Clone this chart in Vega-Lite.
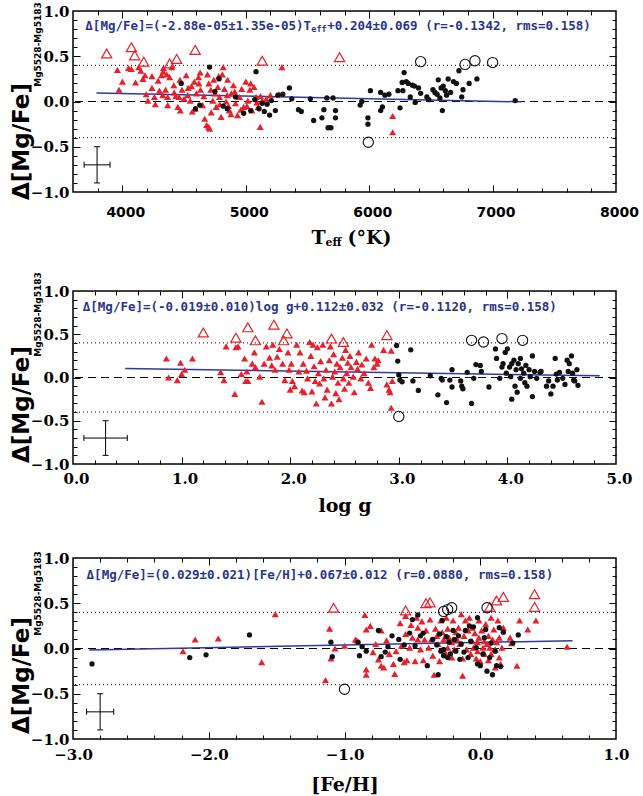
{
"$schema": "https://vega.github.io/schema/vega-lite/v6.json",
"padding": {"left": 9, "top": 0, "right": 5, "bottom": 5},
"config": {"view": {"stroke": "#000", "strokeWidth": 1.5}, "axis": {"grid": false, "domain": false, "labelColor": "#000", "tickColor": "#000", "titleColor": "#000", "tickWidth": 1, "labelFlush": false, "labelOverlap": false}, "font": "DejaVu Sans"},
"datasets": {
"p1": [
{"x":3960,"y":0.35,"t":"r"},{"x":3973,"y":0.13,"t":"r"},{"x":4000,"y":0.22,"t":"r"},{"x":4050,"y":0.37,"t":"r"},{"x":4073,"y":0.36,"t":"r"},{"x":4107,"y":0.21,"t":"r"},{"x":4133,"y":0.38,"t":"r"},{"x":4150,"y":0.34,"t":"r"},{"x":4167,"y":0.25,"t":"r"},{"x":4183,"y":0.29,"t":"r"},{"x":4193,"y":0.08,"t":"r"},{"x":4207,"y":0.01,"t":"r"},{"x":4240,"y":0.15,"t":"r"},{"x":4267,"y":-0.03,"t":"r"},{"x":4290,"y":0.23,"t":"r"},{"x":4317,"y":0.29,"t":"r"},{"x":4327,"y":0.07,"t":"r"},{"x":4333,"y":0.37,"t":"r"},{"x":4350,"y":0.13,"t":"r"},{"x":4367,"y":0.05,"t":"r"},{"x":4367,"y":-0.04,"t":"r"},{"x":4383,"y":0.27,"t":"r"},{"x":4400,"y":0.38,"t":"r"},{"x":4417,"y":0.18,"t":"r"},{"x":4433,"y":0.06,"t":"r"},{"x":4450,"y":-0.06,"t":"r"},{"x":4467,"y":0.24,"t":"r"},{"x":4483,"y":0.13,"t":"r"},{"x":4500,"y":0.03,"t":"r"},{"x":4517,"y":0.29,"t":"r"},{"x":4533,"y":0.15,"t":"r"},{"x":4550,"y":0.01,"t":"r"},{"x":4567,"y":-0.11,"t":"r"},{"x":4583,"y":0.22,"t":"r"},{"x":4600,"y":0.09,"t":"r"},{"x":4617,"y":0.27,"t":"r"},{"x":4633,"y":0.13,"t":"r"},{"x":4650,"y":-0.04,"t":"r"},{"x":4667,"y":-0.19,"t":"r"},{"x":4683,"y":-0.26,"t":"r"},{"x":4700,"y":-0.28,"t":"r"},{"x":4707,"y":-0.30,"t":"r"},{"x":4717,"y":0.13,"t":"r"},{"x":4733,"y":0.01,"t":"r"},{"x":4740,"y":0.24,"t":"r"},{"x":4760,"y":-0.06,"t":"r"},{"x":4773,"y":0.16,"t":"r"},{"x":4787,"y":0.05,"t":"r"},{"x":4800,"y":-0.17,"t":"r"},{"x":4817,"y":0.38,"t":"r"},{"x":4827,"y":0.14,"t":"r"},{"x":4840,"y":0.0,"t":"r"},{"x":4853,"y":0.24,"t":"r"},{"x":4867,"y":-0.10,"t":"r"},{"x":4883,"y":0.09,"t":"r"},{"x":4900,"y":0.18,"t":"r"},{"x":4917,"y":-0.02,"t":"r"},{"x":4933,"y":-0.15,"t":"r"},{"x":4950,"y":0.05,"t":"r"},{"x":4967,"y":0.14,"t":"r"},{"x":4983,"y":-0.06,"t":"r"},{"x":5000,"y":0.22,"t":"r"},{"x":5017,"y":0.01,"t":"r"},{"x":5033,"y":0.13,"t":"r"},{"x":5050,"y":-0.10,"t":"r"},{"x":5067,"y":0.16,"t":"r"},{"x":5083,"y":0.05,"t":"r"},{"x":5100,"y":-0.06,"t":"r"},{"x":5117,"y":-0.28,"t":"r"},{"x":5133,"y":0.01,"t":"r"},{"x":5167,"y":0.03,"t":"r"},{"x":5293,"y":0.38,"t":"r"},{"x":6190,"y":-0.16,"t":"r"},{"x":6190,"y":-0.34,"t":"r"},{"x":4330,"y":0.33,"t":"r"},{"x":4360,"y":0.30,"t":"r"},{"x":4420,"y":0.10,"t":"r"},{"x":4460,"y":0.05,"t":"r"},{"x":4530,"y":0.07,"t":"r"},{"x":4560,"y":0.17,"t":"r"},{"x":4620,"y":0.20,"t":"r"},{"x":4660,"y":0.06,"t":"r"},{"x":4690,"y":0.30,"t":"r"},{"x":4720,"y":-0.12,"t":"r"},{"x":4750,"y":0.09,"t":"r"},{"x":4790,"y":-0.03,"t":"r"},{"x":4810,"y":0.30,"t":"r"},{"x":4850,"y":0.07,"t":"r"},{"x":4880,"y":-0.14,"t":"r"},{"x":4910,"y":0.11,"t":"r"},{"x":4960,"y":-0.09,"t":"r"},{"x":5010,"y":-0.05,"t":"r"},{"x":5040,"y":0.20,"t":"r"},{"x":5090,"y":-0.01,"t":"r"},{"x":5120,"y":0.06,"t":"r"},{"x":4240,"y":0.28,"t":"r"},{"x":4260,"y":0.05,"t":"r"},{"x":4300,"y":0.12,"t":"r"},{"x":4470,"y":-0.10,"t":"r"},{"x":4590,"y":-0.08,"t":"r"},{"x":4630,"y":0.32,"t":"r"},{"x":4700,"y":0.20,"t":"r"},{"x":4780,"y":0.28,"t":"r"},{"x":4860,"y":-0.05,"t":"r"},{"x":5200,"y":0.07,"t":"r"},{"x":5270,"y":0.08,"t":"r"},
{"x":4477,"y":0.20,"t":"k"},{"x":4593,"y":-0.08,"t":"k"},{"x":4627,"y":-0.04,"t":"k"},{"x":4707,"y":0.38,"t":"k"},{"x":4750,"y":0.11,"t":"k"},{"x":4783,"y":0.25,"t":"k"},{"x":4817,"y":-0.05,"t":"k"},{"x":4850,"y":-0.08,"t":"k"},{"x":4917,"y":0.05,"t":"k"},{"x":4983,"y":-0.13,"t":"k"},{"x":5040,"y":-0.10,"t":"k"},{"x":5073,"y":0.02,"t":"k"},{"x":5083,"y":0.33,"t":"k"},{"x":5107,"y":-0.08,"t":"k"},{"x":5133,"y":-0.02,"t":"k"},{"x":5150,"y":-0.11,"t":"k"},{"x":5173,"y":-0.03,"t":"k"},{"x":5193,"y":-0.15,"t":"k"},{"x":5207,"y":0.01,"t":"k"},{"x":5240,"y":-0.10,"t":"k"},{"x":5260,"y":0.07,"t":"k"},{"x":5300,"y":0.08,"t":"k"},{"x":5353,"y":0.15,"t":"k"},{"x":5373,"y":0.03,"t":"k"},{"x":5427,"y":-0.09,"t":"k"},{"x":5450,"y":-0.11,"t":"k"},{"x":5523,"y":0.03,"t":"k"},{"x":5550,"y":-0.21,"t":"k"},{"x":5617,"y":-0.18,"t":"k"},{"x":5633,"y":-0.09,"t":"k"},{"x":5657,"y":0.04,"t":"k"},{"x":5667,"y":-0.29,"t":"k"},{"x":5690,"y":-0.29,"t":"k"},{"x":5707,"y":0.04,"t":"k"},{"x":5727,"y":-0.10,"t":"k"},{"x":5727,"y":-0.18,"t":"k"},{"x":5927,"y":-0.04,"t":"k"},{"x":5940,"y":0.0,"t":"k"},{"x":5990,"y":-0.18,"t":"k"},{"x":5990,"y":-0.25,"t":"k"},{"x":6010,"y":0.12,"t":"k"},{"x":6093,"y":-0.10,"t":"k"},{"x":6107,"y":-0.06,"t":"k"},{"x":6093,"y":0.10,"t":"k"},{"x":6127,"y":0.07,"t":"k"},{"x":6160,"y":0.08,"t":"k"},{"x":6233,"y":0.12,"t":"k"},{"x":6250,"y":-0.07,"t":"k"},{"x":6267,"y":0.21,"t":"k"},{"x":6273,"y":0.12,"t":"k"},{"x":6283,"y":0.32,"t":"k"},{"x":6300,"y":0.22,"t":"k"},{"x":6317,"y":0.20,"t":"k"},{"x":6333,"y":0.05,"t":"k"},{"x":6350,"y":0.18,"t":"k"},{"x":6367,"y":0.17,"t":"k"},{"x":6373,"y":-0.01,"t":"k"},{"x":6400,"y":0.15,"t":"k"},{"x":6417,"y":0.09,"t":"k"},{"x":6467,"y":0.05,"t":"k"},{"x":6483,"y":0.02,"t":"k"},{"x":6517,"y":0.13,"t":"k"},{"x":6533,"y":0.10,"t":"k"},{"x":6550,"y":0.08,"t":"k"},{"x":6560,"y":0.24,"t":"k"},{"x":6573,"y":0.04,"t":"k"},{"x":6583,"y":0.15,"t":"k"},{"x":6593,"y":-0.10,"t":"k"},{"x":6600,"y":0.17,"t":"k"},{"x":6617,"y":0.12,"t":"k"},{"x":6627,"y":0.07,"t":"k"},{"x":6640,"y":0.25,"t":"k"},{"x":6660,"y":0.10,"t":"k"},{"x":6683,"y":0.22,"t":"k"},{"x":6707,"y":0.20,"t":"k"},{"x":6727,"y":0.34,"t":"k"},{"x":6750,"y":0.05,"t":"k"},{"x":6760,"y":0.13,"t":"k"},{"x":6810,"y":0.20,"t":"k"},{"x":6873,"y":0.25,"t":"k"},{"x":7183,"y":0.01,"t":"k"},
{"x":3873,"y":0.53,"t":"ot"},{"x":4073,"y":0.60,"t":"ot"},{"x":4100,"y":0.51,"t":"ot"},{"x":4173,"y":0.44,"t":"ot"},{"x":4383,"y":0.42,"t":"ot"},{"x":4440,"y":0.47,"t":"ot"},{"x":4590,"y":0.57,"t":"ot"},{"x":5133,"y":0.45,"t":"ot"},{"x":5760,"y":0.49,"t":"ot"},
{"x":6417,"y":0.44,"t":"oc"},{"x":6777,"y":0.41,"t":"oc"},{"x":6857,"y":0.45,"t":"oc"},{"x":7000,"y":0.43,"t":"oc"},{"x":5993,"y":-0.45,"t":"oc"}
],
"p2": [
{"x":0.86,"y":0.22,"t":"r"},{"x":0.88,"y":0.0,"t":"r"},{"x":0.96,"y":-0.03,"t":"r"},{"x":0.99,"y":0.17,"t":"r"},{"x":1.0,"y":0.04,"t":"r"},{"x":1.03,"y":0.09,"t":"r"},{"x":1.10,"y":0.22,"t":"r"},{"x":1.36,"y":0.06,"t":"r"},{"x":1.39,"y":-0.03,"t":"r"},{"x":1.41,"y":0.36,"t":"r"},{"x":1.49,"y":-0.19,"t":"r"},{"x":1.50,"y":0.35,"t":"r"},{"x":1.52,"y":0.36,"t":"r"},{"x":1.55,"y":0.04,"t":"r"},{"x":1.58,"y":0.22,"t":"r"},{"x":1.59,"y":-0.04,"t":"r"},{"x":1.60,"y":0.07,"t":"r"},{"x":1.61,"y":-0.04,"t":"r"},{"x":1.65,"y":0.16,"t":"r"},{"x":1.67,"y":0.29,"t":"r"},{"x":1.68,"y":0.12,"t":"r"},{"x":1.72,"y":0.01,"t":"r"},{"x":1.74,"y":-0.28,"t":"r"},{"x":1.76,"y":0.16,"t":"r"},{"x":1.78,"y":0.36,"t":"r"},{"x":1.81,"y":0.23,"t":"r"},{"x":1.83,"y":0.14,"t":"r"},{"x":1.84,"y":0.38,"t":"r"},{"x":1.86,"y":0.09,"t":"r"},{"x":1.88,"y":0.24,"t":"r"},{"x":1.90,"y":0.33,"t":"r"},{"x":1.93,"y":0.16,"t":"r"},{"x":1.95,"y":-0.03,"t":"r"},{"x":1.98,"y":0.29,"t":"r"},{"x":1.99,"y":0.09,"t":"r"},{"x":2.00,"y":-0.14,"t":"r"},{"x":2.01,"y":0.16,"t":"r"},{"x":2.02,"y":-0.04,"t":"r"},{"x":2.04,"y":-0.10,"t":"r"},{"x":2.06,"y":0.38,"t":"r"},{"x":2.08,"y":0.07,"t":"r"},{"x":2.09,"y":0.29,"t":"r"},{"x":2.11,"y":-0.15,"t":"r"},{"x":2.12,"y":0.16,"t":"r"},{"x":2.13,"y":-0.17,"t":"r"},{"x":2.15,"y":0.08,"t":"r"},{"x":2.16,"y":-0.01,"t":"r"},{"x":2.18,"y":0.41,"t":"r"},{"x":2.19,"y":0.25,"t":"r"},{"x":2.20,"y":-0.16,"t":"r"},{"x":2.21,"y":0.38,"t":"r"},{"x":2.22,"y":0.13,"t":"r"},{"x":2.23,"y":-0.04,"t":"r"},{"x":2.24,"y":-0.30,"t":"r"},{"x":2.25,"y":0.35,"t":"r"},{"x":2.26,"y":0.05,"t":"r"},{"x":2.27,"y":-0.07,"t":"r"},{"x":2.28,"y":0.19,"t":"r"},{"x":2.30,"y":0.38,"t":"r"},{"x":2.31,"y":-0.01,"t":"r"},{"x":2.32,"y":-0.23,"t":"r"},{"x":2.33,"y":0.09,"t":"r"},{"x":2.34,"y":-0.14,"t":"r"},{"x":2.36,"y":0.20,"t":"r"},{"x":2.37,"y":0.36,"t":"r"},{"x":2.38,"y":-0.30,"t":"r"},{"x":2.39,"y":0.01,"t":"r"},{"x":2.40,"y":0.27,"t":"r"},{"x":2.41,"y":0.07,"t":"r"},{"x":2.42,"y":-0.18,"t":"r"},{"x":2.43,"y":0.16,"t":"r"},{"x":2.44,"y":-0.06,"t":"r"},{"x":2.45,"y":-0.25,"t":"r"},{"x":2.46,"y":0.12,"t":"r"},{"x":2.48,"y":0.23,"t":"r"},{"x":2.49,"y":-0.01,"t":"r"},{"x":2.50,"y":-0.13,"t":"r"},{"x":2.51,"y":0.32,"t":"r"},{"x":2.52,"y":0.05,"t":"r"},{"x":2.53,"y":0.17,"t":"r"},{"x":2.54,"y":-0.06,"t":"r"},{"x":2.55,"y":0.25,"t":"r"},{"x":2.56,"y":0.12,"t":"r"},{"x":2.58,"y":0.01,"t":"r"},{"x":2.59,"y":-0.17,"t":"r"},{"x":2.61,"y":0.18,"t":"r"},{"x":2.62,"y":0.10,"t":"r"},{"x":2.63,"y":0.29,"t":"r"},{"x":2.65,"y":-0.01,"t":"r"},{"x":2.66,"y":0.15,"t":"r"},{"x":2.68,"y":0.05,"t":"r"},{"x":2.70,"y":0.22,"t":"r"},{"x":2.72,"y":-0.06,"t":"r"},{"x":2.74,"y":-0.12,"t":"r"},{"x":2.75,"y":0.38,"t":"r"},{"x":2.77,"y":0.12,"t":"r"},{"x":2.78,"y":0.22,"t":"r"},{"x":2.80,"y":0.16,"t":"r"},{"x":2.81,"y":0.20,"t":"r"},{"x":2.86,"y":0.32,"t":"r"},{"x":2.89,"y":-0.08,"t":"r"},{"x":2.91,"y":-0.14,"t":"r"},{"x":2.92,"y":-0.17,"t":"r"},{"x":2.93,"y":0.31,"t":"r"},{"x":2.93,"y":-0.35,"t":"r"},{"x":2.94,"y":-0.04,"t":"r"},
{"x":2.98,"y":0.37,"t":"k"},{"x":2.99,"y":0.19,"t":"k"},{"x":3.00,"y":0.03,"t":"k"},{"x":3.01,"y":-0.03,"t":"k"},{"x":3.03,"y":-0.05,"t":"k"},{"x":3.11,"y":0.32,"t":"k"},{"x":3.13,"y":-0.04,"t":"k"},{"x":3.18,"y":-0.15,"t":"k"},{"x":3.29,"y":0.02,"t":"k"},{"x":3.36,"y":-0.20,"t":"k"},{"x":3.39,"y":-0.01,"t":"k"},{"x":3.40,"y":-0.03,"t":"k"},{"x":3.44,"y":-0.29,"t":"k"},{"x":3.47,"y":-0.03,"t":"k"},{"x":3.49,"y":0.09,"t":"k"},{"x":3.49,"y":-0.11,"t":"k"},{"x":3.57,"y":-0.04,"t":"k"},{"x":3.58,"y":-0.10,"t":"k"},{"x":3.59,"y":-0.13,"t":"k"},{"x":3.63,"y":0.06,"t":"k"},{"x":3.67,"y":-0.30,"t":"k"},{"x":3.69,"y":-0.01,"t":"k"},{"x":3.71,"y":0.15,"t":"k"},{"x":3.75,"y":0.14,"t":"k"},{"x":3.76,"y":0.07,"t":"k"},{"x":3.83,"y":-0.11,"t":"k"},{"x":3.89,"y":0.33,"t":"k"},{"x":3.90,"y":0.22,"t":"k"},{"x":3.93,"y":-0.01,"t":"k"},{"x":3.95,"y":0.12,"t":"k"},{"x":3.96,"y":0.16,"t":"k"},{"x":3.98,"y":0.29,"t":"k"},{"x":3.99,"y":0.05,"t":"k"},{"x":4.00,"y":0.33,"t":"k"},{"x":4.02,"y":0.12,"t":"k"},{"x":4.03,"y":0.01,"t":"k"},{"x":4.04,"y":0.16,"t":"k"},{"x":4.04,"y":-0.25,"t":"k"},{"x":4.06,"y":0.20,"t":"k"},{"x":4.07,"y":-0.10,"t":"k"},{"x":4.08,"y":0.09,"t":"k"},{"x":4.09,"y":-0.17,"t":"k"},{"x":4.10,"y":0.16,"t":"k"},{"x":4.12,"y":-0.01,"t":"k"},{"x":4.12,"y":0.22,"t":"k"},{"x":4.13,"y":0.10,"t":"k"},{"x":4.15,"y":0.05,"t":"k"},{"x":4.16,"y":-0.06,"t":"k"},{"x":4.17,"y":0.14,"t":"k"},{"x":4.18,"y":-0.10,"t":"k"},{"x":4.20,"y":0.09,"t":"k"},{"x":4.21,"y":0.01,"t":"k"},{"x":4.23,"y":-0.22,"t":"k"},{"x":4.23,"y":0.25,"t":"k"},{"x":4.25,"y":0.07,"t":"k"},{"x":4.27,"y":-0.01,"t":"k"},{"x":4.30,"y":0.06,"t":"k"},{"x":4.31,"y":0.07,"t":"k"},{"x":4.36,"y":-0.10,"t":"k"},{"x":4.38,"y":-0.04,"t":"k"},{"x":4.40,"y":-0.19,"t":"k"},{"x":4.42,"y":-0.10,"t":"k"},{"x":4.44,"y":0.22,"t":"k"},{"x":4.45,"y":0.04,"t":"k"},{"x":4.46,"y":-0.03,"t":"k"},{"x":4.48,"y":0.06,"t":"k"},{"x":4.51,"y":-0.01,"t":"k"},{"x":4.53,"y":-0.08,"t":"k"},{"x":4.55,"y":0.20,"t":"k"},{"x":4.56,"y":0.07,"t":"k"},{"x":4.57,"y":0.16,"t":"k"},{"x":4.59,"y":0.25,"t":"k"},{"x":4.60,"y":0.05,"t":"k"},{"x":4.61,"y":-0.03,"t":"k"},{"x":4.62,"y":-0.04,"t":"k"},{"x":4.64,"y":0.09,"t":"k"},{"x":4.65,"y":-0.09,"t":"k"},
{"x":1.20,"y":0.52,"t":"ot"},{"x":1.50,"y":0.46,"t":"ot"},{"x":1.61,"y":0.58,"t":"ot"},{"x":1.68,"y":0.43,"t":"ot"},{"x":1.85,"y":0.61,"t":"ot"},{"x":1.97,"y":0.51,"t":"ot"},{"x":1.94,"y":0.43,"t":"ot"},{"x":2.38,"y":0.45,"t":"ot"},{"x":2.49,"y":0.41,"t":"ot"},{"x":2.89,"y":0.49,"t":"ot"},
{"x":3.67,"y":0.43,"t":"oc"},{"x":3.78,"y":0.41,"t":"oc"},{"x":3.95,"y":0.45,"t":"oc"},{"x":4.14,"y":0.43,"t":"oc"},{"x":3.00,"y":-0.45,"t":"oc"}
],
"p3": [
{"x":-2.19,"y":-0.03,"t":"r"},{"x":-2.10,"y":0.10,"t":"r"},{"x":-1.93,"y":0.11,"t":"r"},{"x":-1.61,"y":-0.15,"t":"r"},{"x":-1.51,"y":0.38,"t":"r"},{"x":-1.14,"y":-0.35,"t":"r"},{"x":-1.11,"y":0.22,"t":"r"},{"x":-1.10,"y":-0.11,"t":"r"},{"x":-1.07,"y":0.0,"t":"r"},{"x":-1.00,"y":0.03,"t":"r"},{"x":-0.92,"y":0.10,"t":"r"},{"x":-0.91,"y":0.09,"t":"r"},{"x":-0.85,"y":0.37,"t":"r"},{"x":-0.84,"y":-0.23,"t":"r"},{"x":-0.84,"y":-0.29,"t":"r"},{"x":-0.84,"y":0.21,"t":"r"},{"x":-0.81,"y":0.25,"t":"r"},{"x":-0.79,"y":-0.04,"t":"r"},{"x":-0.77,"y":0.05,"t":"r"},{"x":-0.75,"y":-0.12,"t":"r"},{"x":-0.73,"y":-0.19,"t":"r"},{"x":-0.73,"y":0.20,"t":"r"},{"x":-0.71,"y":-0.21,"t":"r"},{"x":-0.69,"y":0.09,"t":"r"},{"x":-0.67,"y":-0.06,"t":"r"},{"x":-0.64,"y":-0.17,"t":"r"},{"x":-0.63,"y":-0.28,"t":"r"},{"x":-0.62,"y":-0.03,"t":"r"},{"x":-0.59,"y":0.28,"t":"r"},{"x":-0.58,"y":0.03,"t":"r"},{"x":-0.56,"y":-0.15,"t":"r"},{"x":-0.55,"y":0.16,"t":"r"},{"x":-0.55,"y":0.36,"t":"r"},{"x":-0.54,"y":-0.13,"t":"r"},{"x":-0.52,"y":0.01,"t":"r"},{"x":-0.51,"y":0.26,"t":"r"},{"x":-0.50,"y":0.12,"t":"r"},{"x":-0.48,"y":-0.14,"t":"r"},{"x":-0.47,"y":0.34,"t":"r"},{"x":-0.46,"y":0.23,"t":"r"},{"x":-0.46,"y":0.10,"t":"r"},{"x":-0.44,"y":-0.01,"t":"r"},{"x":-0.43,"y":0.30,"t":"r"},{"x":-0.42,"y":-0.13,"t":"r"},{"x":-0.41,"y":0.10,"t":"r"},{"x":-0.40,"y":0.20,"t":"r"},{"x":-0.38,"y":0.01,"t":"r"},{"x":-0.37,"y":0.32,"t":"r"},{"x":-0.36,"y":0.10,"t":"r"},{"x":-0.35,"y":-0.08,"t":"r"},{"x":-0.34,"y":-0.29,"t":"r"},{"x":-0.33,"y":0.22,"t":"r"},{"x":-0.32,"y":0.14,"t":"r"},{"x":-0.31,"y":0.05,"t":"r"},{"x":-0.30,"y":-0.14,"t":"r"},{"x":-0.29,"y":0.31,"t":"r"},{"x":-0.28,"y":0.18,"t":"r"},{"x":-0.27,"y":0.10,"t":"r"},{"x":-0.26,"y":-0.04,"t":"r"},{"x":-0.25,"y":0.34,"t":"r"},{"x":-0.24,"y":0.22,"t":"r"},{"x":-0.24,"y":0.01,"t":"r"},{"x":-0.23,"y":0.12,"t":"r"},{"x":-0.21,"y":-0.10,"t":"r"},{"x":-0.21,"y":0.07,"t":"r"},{"x":-0.20,"y":0.31,"t":"r"},{"x":-0.19,"y":-0.01,"t":"r"},{"x":-0.18,"y":0.18,"t":"r"},{"x":-0.17,"y":0.10,"t":"r"},{"x":-0.16,"y":0.23,"t":"r"},{"x":-0.15,"y":0.05,"t":"r"},{"x":-0.14,"y":0.38,"t":"r"},{"x":-0.13,"y":-0.11,"t":"r"},{"x":-0.13,"y":-0.30,"t":"r"},{"x":-0.12,"y":0.14,"t":"r"},{"x":-0.11,"y":0.31,"t":"r"},{"x":-0.10,"y":-0.01,"t":"r"},{"x":-0.09,"y":0.20,"t":"r"},{"x":-0.08,"y":0.34,"t":"r"},{"x":-0.07,"y":-0.06,"t":"r"},{"x":-0.06,"y":0.08,"t":"r"},{"x":-0.06,"y":0.23,"t":"r"},{"x":-0.05,"y":0.01,"t":"r"},{"x":-0.04,"y":0.17,"t":"r"},{"x":-0.03,"y":-0.11,"t":"r"},{"x":-0.02,"y":0.07,"t":"r"},{"x":-0.02,"y":-0.03,"t":"r"},{"x":-0.01,"y":0.31,"t":"r"},{"x":-0.01,"y":0.12,"t":"r"},{"x":0.0,"y":-0.14,"t":"r"},{"x":0.01,"y":0.20,"t":"r"},{"x":0.02,"y":0.01,"t":"r"},{"x":0.03,"y":0.08,"t":"r"},{"x":0.03,"y":-0.06,"t":"r"},{"x":0.04,"y":0.27,"t":"r"},{"x":0.05,"y":0.05,"t":"r"},{"x":0.06,"y":-0.13,"t":"r"},{"x":0.06,"y":0.14,"t":"r"},{"x":0.07,"y":0.01,"t":"r"},{"x":0.08,"y":0.34,"t":"r"},{"x":0.08,"y":-0.06,"t":"r"},{"x":0.09,"y":0.10,"t":"r"},{"x":0.10,"y":0.21,"t":"r"},{"x":0.11,"y":-0.01,"t":"r"},{"x":0.11,"y":-0.21,"t":"r"},{"x":0.12,"y":0.07,"t":"r"},{"x":0.13,"y":0.31,"t":"r"},{"x":0.14,"y":-0.10,"t":"r"},{"x":0.14,"y":0.12,"t":"r"},{"x":0.15,"y":-0.17,"t":"r"},{"x":0.16,"y":0.01,"t":"r"},{"x":0.17,"y":0.23,"t":"r"},{"x":0.22,"y":0.12,"t":"r"},{"x":0.23,"y":0.06,"t":"r"},{"x":0.27,"y":-0.19,"t":"r"},{"x":0.29,"y":0.31,"t":"r"},{"x":0.35,"y":0.21,"t":"r"},{"x":0.41,"y":0.31,"t":"r"},{"x":0.64,"y":0.02,"t":"r"},
{"x":-2.86,"y":-0.17,"t":"k"},{"x":-2.14,"y":-0.10,"t":"k"},{"x":-2.02,"y":-0.07,"t":"k"},{"x":-1.70,"y":0.15,"t":"k"},{"x":-1.10,"y":0.07,"t":"k"},{"x":-1.09,"y":-0.09,"t":"k"},{"x":-0.90,"y":0.07,"t":"k"},{"x":-0.89,"y":-0.08,"t":"k"},{"x":-0.87,"y":0.02,"t":"k"},{"x":-0.84,"y":-0.03,"t":"k"},{"x":-0.75,"y":0.20,"t":"k"},{"x":-0.73,"y":-0.09,"t":"k"},{"x":-0.70,"y":-0.04,"t":"k"},{"x":-0.68,"y":0.02,"t":"k"},{"x":-0.65,"y":0.14,"t":"k"},{"x":-0.60,"y":0.10,"t":"k"},{"x":-0.59,"y":-0.12,"t":"k"},{"x":-0.56,"y":0.04,"t":"k"},{"x":-0.52,"y":0.17,"t":"k"},{"x":-0.50,"y":0.32,"t":"k"},{"x":-0.48,"y":0.03,"t":"k"},{"x":-0.46,"y":0.37,"t":"k"},{"x":-0.44,"y":0.14,"t":"k"},{"x":-0.42,"y":0.17,"t":"k"},{"x":-0.39,"y":-0.19,"t":"k"},{"x":-0.35,"y":0.10,"t":"k"},{"x":-0.32,"y":0.04,"t":"k"},{"x":-0.31,"y":-0.29,"t":"k"},{"x":-0.30,"y":0.16,"t":"k"},{"x":-0.29,"y":-0.03,"t":"k"},{"x":-0.28,"y":0.31,"t":"k"},{"x":-0.27,"y":-0.01,"t":"k"},{"x":-0.27,"y":-0.08,"t":"k"},{"x":-0.25,"y":0.13,"t":"k"},{"x":-0.24,"y":-0.10,"t":"k"},{"x":-0.23,"y":0.07,"t":"k"},{"x":-0.22,"y":-0.06,"t":"k"},{"x":-0.20,"y":0.20,"t":"k"},{"x":-0.19,"y":0.10,"t":"k"},{"x":-0.18,"y":-0.03,"t":"k"},{"x":-0.16,"y":0.14,"t":"k"},{"x":-0.15,"y":-0.12,"t":"k"},{"x":-0.14,"y":0.05,"t":"k"},{"x":-0.12,"y":-0.04,"t":"k"},{"x":-0.11,"y":0.20,"t":"k"},{"x":-0.09,"y":-0.10,"t":"k"},{"x":-0.08,"y":0.25,"t":"k"},{"x":-0.07,"y":0.08,"t":"k"},{"x":-0.05,"y":0.24,"t":"k"},{"x":-0.03,"y":0.01,"t":"k"},{"x":-0.02,"y":0.34,"t":"k"},{"x":-0.02,"y":-0.17,"t":"k"},{"x":0.0,"y":-0.19,"t":"k"},{"x":0.02,"y":-0.06,"t":"k"},{"x":0.03,"y":0.12,"t":"k"},{"x":0.04,"y":0.21,"t":"k"},{"x":0.05,"y":-0.25,"t":"k"},{"x":0.07,"y":-0.10,"t":"k"},{"x":0.08,"y":0.06,"t":"k"},{"x":0.09,"y":-0.29,"t":"k"},{"x":0.11,"y":-0.03,"t":"k"},{"x":0.12,"y":-0.19,"t":"k"},{"x":0.14,"y":0.23,"t":"k"},{"x":0.15,"y":-0.20,"t":"k"},{"x":0.17,"y":0.18,"t":"k"},{"x":0.24,"y":0.06,"t":"k"},{"x":0.28,"y":0.15,"t":"k"},
{"x":-1.08,"y":0.45,"t":"ot"},{"x":-0.55,"y":0.42,"t":"ot"},{"x":-0.40,"y":0.50,"t":"ot"},{"x":-0.37,"y":0.51,"t":"ot"},{"x":0.07,"y":0.46,"t":"ot"},{"x":0.12,"y":0.53,"t":"ot"},{"x":0.17,"y":0.57,"t":"ot"},{"x":0.40,"y":0.60,"t":"ot"},{"x":0.40,"y":0.46,"t":"ot"},
{"x":-1.00,"y":-0.45,"t":"oc"},{"x":-0.27,"y":0.41,"t":"oc"},{"x":-0.24,"y":0.43,"t":"oc"},{"x":-0.21,"y":0.45,"t":"oc"},{"x":0.05,"y":0.45,"t":"oc"}
]
},
"vconcat": [
{
"width": 543, "height": 181,
"resolve": {"axis": {"x": "independent", "y": "independent"}},
"layer": [
{"data": {"values": [{"y": 0}]}, "mark": {"type": "rule", "color": "#000", "strokeWidth": 1, "strokeDash": [8, 5]},
 "encoding": {"y": {"field": "y", "type": "quantitative", "scale": {"domain": [-1, 1], "nice": false, "zero": false},
  "axis": {"orient": "left", "values": [-1, -0.5, 0, 0.5, 1], "format": ".1f", "ticks": false, "labelFont": "DejaVu Serif", "labelFontWeight": "bold", "labelFontSize": 15, "labelPadding": 4, "title": "Δ[Mg/Fe]", "titleFont": "DejaVu Sans", "titleFontWeight": "bold", "titleFontSize": 23, "titleAngle": 270, "titleAlign": "center", "titleBaseline": "middle", "titleX": -52, "titleY": 130}}}},
{"data": {"values": [{"y": 0.4}, {"y": -0.4}]}, "mark": {"type": "rule", "color": "#000", "strokeWidth": 1, "strokeDash": [1, 3]},
 "encoding": {"y": {"field": "y", "type": "quantitative", "scale": {"domain": [-1, 1], "nice": false, "zero": false},
  "axis": {"orient": "left", "values": [-0.9,-0.8,-0.7,-0.6,-0.4,-0.3,-0.2,-0.1,0.1,0.2,0.3,0.4,0.6,0.7,0.8,0.9], "labels": false, "tickSize": -4, "title": "Mg5528-Mg5183", "titleFont": "DejaVu Sans", "titleFontWeight": "bold", "titleFontSize": 9, "titleAngle": 270, "titleAlign": "center", "titleBaseline": "middle", "titleX": -36, "titleY": 33}}}},
{"data": {"values": [{"x": 3790, "y": 0.095}, {"x": 7230, "y": -0.004}]}, "mark": {"type": "line", "color": "#2b3ba3", "strokeWidth": 1.5},
 "encoding": {
  "x": {"field": "x", "type": "quantitative", "scale": {"domain": [3600, 8000], "nice": false, "zero": false},
   "axis": {"orient": "bottom", "values": [4000, 5000, 6000, 7000, 8000], "format": "d", "ticks": false, "labelFont": "DejaVu Sans", "labelFontWeight": "bold", "labelFontSize": 14, "labelPadding": 13, "labelOffset": 3, "title": "T", "titleFont": "DejaVu Serif", "titleFontWeight": "bold", "titleFontSize": 19, "titleAlign": "center", "titleBaseline": "middle", "titleX": 245, "titleY": 45}},
  "y": {"field": "y", "type": "quantitative", "scale": {"domain": [-1, 1], "nice": false, "zero": false},
   "axis": {"orient": "left", "values": [-0.5, 0, 0.5], "labels": false, "tickSize": -7, "title": null}}}},
{"data": {"values": [{"x": 3690, "x2": 3900, "y": -0.7, "y2": -0.7}, {"x": 3795, "x2": 3795, "y": -0.5, "y2": -0.9}]}, "mark": {"type": "rule", "color": "#000", "strokeWidth": 1},
 "encoding": {
  "x": {"field": "x", "type": "quantitative", "scale": {"domain": [3600, 8000], "nice": false, "zero": false},
   "axis": {"orient": "bottom", "values": [3800,4200,4400,4600,4800,5200,5400,5600,5800,6200,6400,6600,6800,7200,7400,7600,7800], "labels": false, "tickSize": -4, "title": "eff", "titleFont": "DejaVu Serif", "titleFontWeight": "bold", "titleFontSize": 11, "titleAlign": "center", "titleBaseline": "middle", "titleX": 260, "titleY": 50}},
  "x2": {"field": "x2"},
  "y": {"field": "y", "type": "quantitative", "scale": {"domain": [-1, 1], "nice": false, "zero": false},
   "axis": {"orient": "right", "values": [-0.9,-0.8,-0.7,-0.6,-0.4,-0.3,-0.2,-0.1,0.1,0.2,0.3,0.4,0.6,0.7,0.8,0.9], "labels": false, "tickSize": -4, "title": null}},
  "y2": {"field": "y2"}}},
{"data": {"values": [{"x": 3690, "y": -0.7}, {"x": 3900, "y": -0.7}]}, "mark": {"type": "tick", "orient": "vertical", "size": 6, "thickness": 1, "color": "#000", "opacity": 1},
 "encoding": {
  "x": {"field": "x", "type": "quantitative", "scale": {"domain": [3600, 8000], "nice": false, "zero": false},
   "axis": {"orient": "bottom", "values": [4000, 5000, 6000, 7000], "labels": false, "tickSize": -7, "title": null}},
  "y": {"field": "y", "type": "quantitative", "scale": {"domain": [-1, 1], "nice": false, "zero": false},
   "axis": {"orient": "right", "values": [-0.5, 0, 0.5], "labels": false, "tickSize": -7, "title": null}}}},
{"data": {"values": [{"x": 3795, "y": -0.5}, {"x": 3795, "y": -0.9}]}, "mark": {"type": "tick", "orient": "horizontal", "size": 6, "thickness": 1, "color": "#000", "opacity": 1},
 "encoding": {
  "x": {"field": "x", "type": "quantitative", "scale": {"domain": [3600, 8000], "nice": false, "zero": false},
   "axis": {"orient": "top", "values": [3800,4200,4400,4600,4800,5200,5400,5600,5800,6200,6400,6600,6800,7200,7400,7600,7800], "labels": false, "tickSize": -4, "title": null}},
  "y": {"field": "y", "type": "quantitative", "scale": {"domain": [-1, 1], "nice": false, "zero": false}, "axis": null}}},
{"data": {"name": "p1"}, "transform": [{"filter": "datum.t == 'r'"}], "mark": {"type": "point", "shape": "triangle-up", "filled": true, "color": "#e8202a", "size": 50, "opacity": 1},
 "encoding": {
  "x": {"field": "x", "type": "quantitative", "scale": {"domain": [3600, 8000], "nice": false, "zero": false},
   "axis": {"orient": "top", "values": [4000, 5000, 6000, 7000], "labels": false, "tickSize": -7, "title": null}},
  "y": {"field": "y", "type": "quantitative", "scale": {"domain": [-1, 1], "nice": false, "zero": false}, "axis": null}}},
{"data": {"name": "p1"}, "transform": [{"filter": "datum.t == 'k'"}], "mark": {"type": "point", "shape": "circle", "filled": true, "color": "#111", "size": 28, "opacity": 1},
 "encoding": {
  "x": {"field": "x", "type": "quantitative", "scale": {"domain": [3600, 8000], "nice": false, "zero": false},
   "axis": {"orient": "bottom", "labels": false, "ticks": false, "title": "(°K)", "titleFont": "DejaVu Serif", "titleFontWeight": "bold", "titleFontSize": 19, "titleAlign": "center", "titleBaseline": "middle", "titleX": 296, "titleY": 45}},
  "y": {"field": "y", "type": "quantitative", "scale": {"domain": [-1, 1], "nice": false, "zero": false}, "axis": null}}},
{"data": {"name": "p1"}, "transform": [{"filter": "datum.t == 'ot'"}], "mark": {"type": "point", "shape": "triangle-up", "filled": false, "color": "#e8202a", "size": 105, "strokeWidth": 1.2, "opacity": 1},
 "encoding": {"x": {"field": "x", "type": "quantitative", "scale": {"domain": [3600, 8000], "nice": false, "zero": false}, "axis": null},
  "y": {"field": "y", "type": "quantitative", "scale": {"domain": [-1, 1], "nice": false, "zero": false}, "axis": null}}},
{"data": {"name": "p1"}, "transform": [{"filter": "datum.t == 'oc'"}], "mark": {"type": "point", "shape": "circle", "filled": false, "color": "#111", "size": 105, "strokeWidth": 1.1, "opacity": 1},
 "encoding": {"x": {"field": "x", "type": "quantitative", "scale": {"domain": [3600, 8000], "nice": false, "zero": false}, "axis": null},
  "y": {"field": "y", "type": "quantitative", "scale": {"domain": [-1, 1], "nice": false, "zero": false}, "axis": null}}},
{"data": {"values": [{"x": 3700, "y": 0.83}]}, "mark": {"type": "text", "text": "Δ[Mg/Fe]=(-2.88e-05±1.35e-05)T", "align": "left", "baseline": "middle", "font": "DejaVu Sans Mono", "fontWeight": "bold", "fontSize": 12.5, "color": "#27348b"},
 "encoding": {"x": {"field": "x", "type": "quantitative", "scale": {"domain": [3600, 8000], "nice": false, "zero": false}, "axis": null},
  "y": {"field": "y", "type": "quantitative", "scale": {"domain": [-1, 1], "nice": false, "zero": false}, "axis": null}}},
{"data": {"values": [{"x": 3700, "y": 0.83}]}, "mark": {"type": "text", "text": "eff", "align": "left", "baseline": "middle", "dx": 226, "dy": 3, "font": "DejaVu Sans Mono", "fontWeight": "bold", "fontSize": 8.5, "color": "#27348b"},
 "encoding": {"x": {"field": "x", "type": "quantitative", "scale": {"domain": [3600, 8000], "nice": false, "zero": false}, "axis": null},
  "y": {"field": "y", "type": "quantitative", "scale": {"domain": [-1, 1], "nice": false, "zero": false}, "axis": null}}},
{"data": {"values": [{"x": 3700, "y": 0.83}]}, "mark": {"type": "text", "text": "+0.204±0.069 (r=-0.1342, rms=0.158)", "align": "left", "baseline": "middle", "dx": 242, "font": "DejaVu Sans Mono", "fontWeight": "bold", "fontSize": 12.5, "color": "#27348b"},
 "encoding": {"x": {"field": "x", "type": "quantitative", "scale": {"domain": [3600, 8000], "nice": false, "zero": false}, "axis": null},
  "y": {"field": "y", "type": "quantitative", "scale": {"domain": [-1, 1], "nice": false, "zero": false}, "axis": null}}}
]
},
{
"vconcat": [
{
"width": 543, "height": 173,
"resolve": {"axis": {"x": "independent", "y": "independent"}},
"layer": [
{"data": {"values": [{"y": 0}]}, "mark": {"type": "rule", "color": "#000", "strokeWidth": 1, "strokeDash": [8, 5]},
 "encoding": {"y": {"field": "y", "type": "quantitative", "scale": {"domain": [-1, 1], "nice": false, "zero": false},
  "axis": {"orient": "left", "values": [-1, -0.5, 0, 0.5, 1], "format": ".1f", "ticks": false, "labelFont": "DejaVu Serif", "labelFontWeight": "bold", "labelFontSize": 15, "labelPadding": 4, "title": "Δ[Mg/Fe]", "titleFont": "DejaVu Sans", "titleFontWeight": "bold", "titleFontSize": 23, "titleAngle": 270, "titleAlign": "center", "titleBaseline": "middle", "titleX": -52, "titleY": 113}}}},
{"data": {"values": [{"y": 0.4}, {"y": -0.4}]}, "mark": {"type": "rule", "color": "#000", "strokeWidth": 1, "strokeDash": [1, 3]},
 "encoding": {"y": {"field": "y", "type": "quantitative", "scale": {"domain": [-1, 1], "nice": false, "zero": false},
  "axis": {"orient": "left", "values": [-0.9,-0.8,-0.7,-0.6,-0.4,-0.3,-0.2,-0.1,0.1,0.2,0.3,0.4,0.6,0.7,0.8,0.9], "labels": false, "tickSize": -4, "title": "Mg5528-Mg5183", "titleFont": "DejaVu Sans", "titleFontWeight": "bold", "titleFontSize": 9, "titleAngle": 270, "titleAlign": "center", "titleBaseline": "middle", "titleX": -36, "titleY": 23}}}},
{"data": {"values": [{"x": 0.48, "y": 0.103}, {"x": 4.85, "y": 0.02}]}, "mark": {"type": "line", "color": "#2b3ba3", "strokeWidth": 1.5},
 "encoding": {
  "x": {"field": "x", "type": "quantitative", "scale": {"domain": [0, 5], "nice": false, "zero": false},
   "axis": {"orient": "bottom", "values": [0, 1, 2, 3, 4, 5], "format": ".1f", "ticks": false, "labelFont": "DejaVu Serif", "labelFontWeight": "bold", "labelFontSize": 15, "labelPadding": 7, "labelOffset": 3, "title": "log g", "titleFont": "DejaVu Serif", "titleFontWeight": "bold", "titleFontSize": 19, "titleAlign": "center", "titleBaseline": "middle", "titleX": 271.5, "titleY": 41}},
  "y": {"field": "y", "type": "quantitative", "scale": {"domain": [-1, 1], "nice": false, "zero": false},
   "axis": {"orient": "left", "values": [-0.5, 0, 0.5], "labels": false, "tickSize": -7, "title": null}}}},
{"data": {"values": [{"x": 0.1, "x2": 0.5, "y": -0.7, "y2": -0.7}, {"x": 0.3, "x2": 0.3, "y": -0.5, "y2": -0.9}]}, "mark": {"type": "rule", "color": "#000", "strokeWidth": 1},
 "encoding": {
  "x": {"field": "x", "type": "quantitative", "scale": {"domain": [0, 5], "nice": false, "zero": false},
   "axis": {"orient": "bottom", "values": [0.2,0.4,0.6,0.8,1.2,1.4,1.6,1.8,2.2,2.4,2.6,2.8,3.2,3.4,3.6,3.8,4.2,4.4,4.6,4.8], "labels": false, "tickSize": -4, "title": null}},
  "x2": {"field": "x2"},
  "y": {"field": "y", "type": "quantitative", "scale": {"domain": [-1, 1], "nice": false, "zero": false},
   "axis": {"orient": "right", "values": [-0.9,-0.8,-0.7,-0.6,-0.4,-0.3,-0.2,-0.1,0.1,0.2,0.3,0.4,0.6,0.7,0.8,0.9], "labels": false, "tickSize": -4, "title": null}},
  "y2": {"field": "y2"}}},
{"data": {"values": [{"x": 0.1, "y": -0.7}, {"x": 0.5, "y": -0.7}]}, "mark": {"type": "tick", "orient": "vertical", "size": 6, "thickness": 1, "color": "#000", "opacity": 1},
 "encoding": {
  "x": {"field": "x", "type": "quantitative", "scale": {"domain": [0, 5], "nice": false, "zero": false},
   "axis": {"orient": "bottom", "values": [1, 2, 3, 4], "labels": false, "tickSize": -7, "title": null}},
  "y": {"field": "y", "type": "quantitative", "scale": {"domain": [-1, 1], "nice": false, "zero": false},
   "axis": {"orient": "right", "values": [-0.5, 0, 0.5], "labels": false, "tickSize": -7, "title": null}}}},
{"data": {"values": [{"x": 0.3, "y": -0.5}, {"x": 0.3, "y": -0.9}]}, "mark": {"type": "tick", "orient": "horizontal", "size": 6, "thickness": 1, "color": "#000", "opacity": 1},
 "encoding": {
  "x": {"field": "x", "type": "quantitative", "scale": {"domain": [0, 5], "nice": false, "zero": false},
   "axis": {"orient": "top", "values": [0.2,0.4,0.6,0.8,1.2,1.4,1.6,1.8,2.2,2.4,2.6,2.8,3.2,3.4,3.6,3.8,4.2,4.4,4.6,4.8], "labels": false, "tickSize": -4, "title": null}},
  "y": {"field": "y", "type": "quantitative", "scale": {"domain": [-1, 1], "nice": false, "zero": false}, "axis": null}}},
{"data": {"name": "p2"}, "transform": [{"filter": "datum.t == 'r'"}], "mark": {"type": "point", "shape": "triangle-up", "filled": true, "color": "#e8202a", "size": 50, "opacity": 1},
 "encoding": {
  "x": {"field": "x", "type": "quantitative", "scale": {"domain": [0, 5], "nice": false, "zero": false},
   "axis": {"orient": "top", "values": [1, 2, 3, 4], "labels": false, "tickSize": -7, "title": null}},
  "y": {"field": "y", "type": "quantitative", "scale": {"domain": [-1, 1], "nice": false, "zero": false}, "axis": null}}},
{"data": {"name": "p2"}, "transform": [{"filter": "datum.t == 'k'"}], "mark": {"type": "point", "shape": "circle", "filled": true, "color": "#111", "size": 28, "opacity": 1},
 "encoding": {"x": {"field": "x", "type": "quantitative", "scale": {"domain": [0, 5], "nice": false, "zero": false}, "axis": null},
  "y": {"field": "y", "type": "quantitative", "scale": {"domain": [-1, 1], "nice": false, "zero": false}, "axis": null}}},
{"data": {"name": "p2"}, "transform": [{"filter": "datum.t == 'ot'"}], "mark": {"type": "point", "shape": "triangle-up", "filled": false, "color": "#e8202a", "size": 105, "strokeWidth": 1.2, "opacity": 1},
 "encoding": {"x": {"field": "x", "type": "quantitative", "scale": {"domain": [0, 5], "nice": false, "zero": false}, "axis": null},
  "y": {"field": "y", "type": "quantitative", "scale": {"domain": [-1, 1], "nice": false, "zero": false}, "axis": null}}},
{"data": {"name": "p2"}, "transform": [{"filter": "datum.t == 'oc'"}], "mark": {"type": "point", "shape": "circle", "filled": false, "color": "#111", "size": 105, "strokeWidth": 1.1, "opacity": 1},
 "encoding": {"x": {"field": "x", "type": "quantitative", "scale": {"domain": [0, 5], "nice": false, "zero": false}, "axis": null},
  "y": {"field": "y", "type": "quantitative", "scale": {"domain": [-1, 1], "nice": false, "zero": false}, "axis": null}}},
{"data": {"values": [{"x": 0.09, "y": 0.81}]}, "mark": {"type": "text", "text": "Δ[Mg/Fe]=(-0.019±0.010)log g+0.112±0.032 (r=-0.1120, rms=0.158)", "align": "left", "baseline": "middle", "font": "DejaVu Sans Mono", "fontWeight": "bold", "fontSize": 12.5, "color": "#27348b"},
 "encoding": {"x": {"field": "x", "type": "quantitative", "scale": {"domain": [0, 5], "nice": false, "zero": false}, "axis": null},
  "y": {"field": "y", "type": "quantitative", "scale": {"domain": [-1, 1], "nice": false, "zero": false}, "axis": null}}}
]
},
{
"width": 543, "height": 181,
"resolve": {"axis": {"x": "independent", "y": "independent"}},
"layer": [
{"data": {"values": [{"y": 0}]}, "mark": {"type": "rule", "color": "#000", "strokeWidth": 1, "strokeDash": [8, 5]},
 "encoding": {"y": {"field": "y", "type": "quantitative", "scale": {"domain": [-1, 1], "nice": false, "zero": false},
  "axis": {"orient": "left", "values": [-1, -0.5, 0, 0.5, 1], "format": ".1f", "ticks": false, "labelFont": "DejaVu Serif", "labelFontWeight": "bold", "labelFontSize": 15, "labelPadding": 4, "title": "Δ[Mg/Fe]", "titleFont": "DejaVu Sans", "titleFontWeight": "bold", "titleFontSize": 23, "titleAngle": 270, "titleAlign": "center", "titleBaseline": "middle", "titleX": -52, "titleY": 117}}}},
{"data": {"values": [{"y": 0.4}, {"y": -0.4}]}, "mark": {"type": "rule", "color": "#000", "strokeWidth": 1, "strokeDash": [1, 3]},
 "encoding": {"y": {"field": "y", "type": "quantitative", "scale": {"domain": [-1, 1], "nice": false, "zero": false},
  "axis": {"orient": "left", "values": [-0.9,-0.8,-0.7,-0.6,-0.4,-0.3,-0.2,-0.1,0.1,0.2,0.3,0.4,0.6,0.7,0.8,0.9], "labels": false, "tickSize": -4, "title": "Mg5528-Mg5183", "titleFont": "DejaVu Sans", "titleFontWeight": "bold", "titleFontSize": 9, "titleAngle": 270, "titleAlign": "center", "titleBaseline": "middle", "titleX": -36, "titleY": 35}}}},
{"data": {"values": [{"x": -2.88, "y": -0.017}, {"x": 0.68, "y": 0.087}]}, "mark": {"type": "line", "color": "#2b3ba3", "strokeWidth": 1.5},
 "encoding": {
  "x": {"field": "x", "type": "quantitative", "scale": {"domain": [-3, 1], "nice": false, "zero": false},
   "axis": {"orient": "bottom", "values": [-3, -2, -1, 0, 1], "format": ".1f", "ticks": false, "labelFont": "DejaVu Serif", "labelFontWeight": "bold", "labelFontSize": 15, "labelPadding": 8, "title": "[Fe/H]", "titleFont": "DejaVu Serif", "titleFontWeight": "bold", "titleFontSize": 19, "titleAlign": "center", "titleBaseline": "middle", "titleX": 271.5, "titleY": 45}},
  "y": {"field": "y", "type": "quantitative", "scale": {"domain": [-1, 1], "nice": false, "zero": false},
   "axis": {"orient": "left", "values": [-0.5, 0, 0.5], "labels": false, "tickSize": -7, "title": null}}}},
{"data": {"values": [{"x": -2.9, "x2": -2.7, "y": -0.7, "y2": -0.7}, {"x": -2.8, "x2": -2.8, "y": -0.5, "y2": -0.9}]}, "mark": {"type": "rule", "color": "#000", "strokeWidth": 1},
 "encoding": {
  "x": {"field": "x", "type": "quantitative", "scale": {"domain": [-3, 1], "nice": false, "zero": false},
   "axis": {"orient": "bottom", "values": [-2.8,-2.6,-2.4,-2.2,-1.8,-1.6,-1.4,-1.2,-0.8,-0.6,-0.4,-0.2,0.2,0.4,0.6,0.8], "labels": false, "tickSize": -4, "title": null}},
  "x2": {"field": "x2"},
  "y": {"field": "y", "type": "quantitative", "scale": {"domain": [-1, 1], "nice": false, "zero": false},
   "axis": {"orient": "right", "values": [-0.9,-0.8,-0.7,-0.6,-0.4,-0.3,-0.2,-0.1,0.1,0.2,0.3,0.4,0.6,0.7,0.8,0.9], "labels": false, "tickSize": -4, "title": null}},
  "y2": {"field": "y2"}}},
{"data": {"values": [{"x": -2.9, "y": -0.7}, {"x": -2.7, "y": -0.7}]}, "mark": {"type": "tick", "orient": "vertical", "size": 6, "thickness": 1, "color": "#000", "opacity": 1},
 "encoding": {
  "x": {"field": "x", "type": "quantitative", "scale": {"domain": [-3, 1], "nice": false, "zero": false},
   "axis": {"orient": "bottom", "values": [-2, -1, 0], "labels": false, "tickSize": -7, "title": null}},
  "y": {"field": "y", "type": "quantitative", "scale": {"domain": [-1, 1], "nice": false, "zero": false},
   "axis": {"orient": "right", "values": [-0.5, 0, 0.5], "labels": false, "tickSize": -7, "title": null}}}},
{"data": {"values": [{"x": -2.8, "y": -0.5}, {"x": -2.8, "y": -0.9}]}, "mark": {"type": "tick", "orient": "horizontal", "size": 6, "thickness": 1, "color": "#000", "opacity": 1},
 "encoding": {
  "x": {"field": "x", "type": "quantitative", "scale": {"domain": [-3, 1], "nice": false, "zero": false},
   "axis": {"orient": "top", "values": [-2.8,-2.6,-2.4,-2.2,-1.8,-1.6,-1.4,-1.2,-0.8,-0.6,-0.4,-0.2,0.2,0.4,0.6,0.8], "labels": false, "tickSize": -4, "title": null}},
  "y": {"field": "y", "type": "quantitative", "scale": {"domain": [-1, 1], "nice": false, "zero": false}, "axis": null}}},
{"data": {"name": "p3"}, "transform": [{"filter": "datum.t == 'r'"}], "mark": {"type": "point", "shape": "triangle-up", "filled": true, "color": "#e8202a", "size": 50, "opacity": 1},
 "encoding": {
  "x": {"field": "x", "type": "quantitative", "scale": {"domain": [-3, 1], "nice": false, "zero": false},
   "axis": {"orient": "top", "values": [-2, -1, 0], "labels": false, "tickSize": -7, "title": null}},
  "y": {"field": "y", "type": "quantitative", "scale": {"domain": [-1, 1], "nice": false, "zero": false}, "axis": null}}},
{"data": {"name": "p3"}, "transform": [{"filter": "datum.t == 'k'"}], "mark": {"type": "point", "shape": "circle", "filled": true, "color": "#111", "size": 28, "opacity": 1},
 "encoding": {"x": {"field": "x", "type": "quantitative", "scale": {"domain": [-3, 1], "nice": false, "zero": false}, "axis": null},
  "y": {"field": "y", "type": "quantitative", "scale": {"domain": [-1, 1], "nice": false, "zero": false}, "axis": null}}},
{"data": {"name": "p3"}, "transform": [{"filter": "datum.t == 'ot'"}], "mark": {"type": "point", "shape": "triangle-up", "filled": false, "color": "#e8202a", "size": 105, "strokeWidth": 1.2, "opacity": 1},
 "encoding": {"x": {"field": "x", "type": "quantitative", "scale": {"domain": [-3, 1], "nice": false, "zero": false}, "axis": null},
  "y": {"field": "y", "type": "quantitative", "scale": {"domain": [-1, 1], "nice": false, "zero": false}, "axis": null}}},
{"data": {"name": "p3"}, "transform": [{"filter": "datum.t == 'oc'"}], "mark": {"type": "point", "shape": "circle", "filled": false, "color": "#111", "size": 105, "strokeWidth": 1.1, "opacity": 1},
 "encoding": {"x": {"field": "x", "type": "quantitative", "scale": {"domain": [-3, 1], "nice": false, "zero": false}, "axis": null},
  "y": {"field": "y", "type": "quantitative", "scale": {"domain": [-1, 1], "nice": false, "zero": false}, "axis": null}}},
{"data": {"values": [{"x": -2.9, "y": 0.81}]}, "mark": {"type": "text", "text": "Δ[Mg/Fe]=(0.029±0.021)[Fe/H]+0.067±0.012 (r=0.0880, rms=0.158)", "align": "left", "baseline": "middle", "font": "DejaVu Sans Mono", "fontWeight": "bold", "fontSize": 12.5, "color": "#27348b"},
 "encoding": {"x": {"field": "x", "type": "quantitative", "scale": {"domain": [-3, 1], "nice": false, "zero": false}, "axis": null},
  "y": {"field": "y", "type": "quantitative", "scale": {"domain": [-1, 1], "nice": false, "zero": false}, "axis": null}}}
]
}
],
"spacing": 94, "bounds": "flush"
}
],
"spacing": 99, "bounds": "flush"
}
